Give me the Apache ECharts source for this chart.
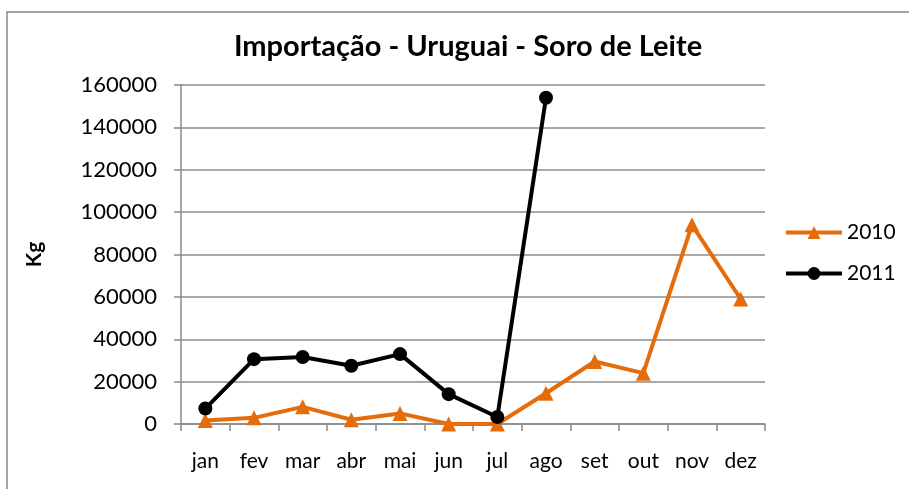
<!DOCTYPE html>
<html>
<head>
<meta charset="utf-8">
<script src="https://cdn.jsdelivr.net/npm/echarts@6/dist/echarts.min.js"></script>
<style>
  html, body { margin: 0; padding: 0; background: #fff; }
  #chart { width: 909px; height: 489px; }
</style>
</head>
<body>
<div id="chart"></div>
<script>
  // meses
  var months = ['jan', 'fev', 'mar', 'abr', 'mai', 'jun', 'jul', 'ago', 'set', 'out', 'nov', 'dez'];
  // importação em kg
  var kg2010 = [1700, 2900, 8100, 2000, 5000, 0, 0, 14500, 29500, 24000, 94000, 59000];
  var kg2011 = [7300, 30600, 31600, 27500, 33000, 14100, 3300, 154000, null, null, null, null];

  var font = 'Lato, "Open Sans", sans-serif';
  var chart = echarts.init(document.getElementById('chart'));

  chart.setOption({
    animation: false,
    title: {
      text: 'Importação - Uruguai - Soro de Leite',
      left: 463,
      top: 27,
      textAlign: 'center',
      textStyle: { fontFamily: font, fontWeight: 'bold', fontSize: 29, color: '#000' }
    },
    legend: {
      orient: 'vertical',
      left: 779,
      top: 217,
      itemWidth: 56,
      itemHeight: 16,
      itemGap: 20,
      lineStyle: { width: 4 },
      textStyle: { fontFamily: font, fontSize: 21, color: '#000' },
      data: ['2010', '2011']
    },
    grid: { left: 181, right: 144, top: 85, bottom: 65 },
    graphic: [{
      type: 'rect',
      shape: { x: 7, y: 12, width: 950, height: 520 },
      style: { fill: 'none', stroke: '#888', lineWidth: 1.5 }
    }],
    xAxis: {
      type: 'category',
      data: months,
      boundaryGap: true,
      axisLine: { lineStyle: { color: '#888', width: 1.5 } },
      axisTick: { show: true, length: 7, lineStyle: { color: '#888', width: 1.5 } },
      axisLabel: { margin: 27, color: '#000', fontFamily: font, fontSize: 21 }
    },
    yAxis: {
      type: 'value',
      min: 0,
      max: 160000,
      interval: 20000,
      name: 'Kg',
      nameLocation: 'middle',
      nameGap: 136,
      nameTextStyle: { fontFamily: font, fontWeight: 'bold', fontSize: 21, color: '#000' },
      axisLine: { show: true, lineStyle: { color: '#888', width: 1.5 } },
      axisTick: { show: true, length: 7, lineStyle: { color: '#888', width: 1.5 } },
      splitLine: { lineStyle: { color: '#8c8c8c', width: 1.5 } },
      axisLabel: {
        margin: 24, color: '#000', fontFamily: font, fontSize: 22,
        formatter: function (v) { return String(v); }
      }
    },
    series: [
      {
        name: '2010',
        type: 'line',
        data: kg2010,
        symbol: 'triangle',
        symbolSize: 15,
        lineStyle: { color: '#E46C0A', width: 4 },
        itemStyle: { color: '#E46C0A' }
      },
      {
        name: '2011',
        type: 'line',
        data: kg2011,
        symbol: 'circle',
        symbolSize: 14,
        lineStyle: { color: '#000', width: 4 },
        itemStyle: { color: '#000' }
      }
    ]
  });
</script>
</body>
</html>
